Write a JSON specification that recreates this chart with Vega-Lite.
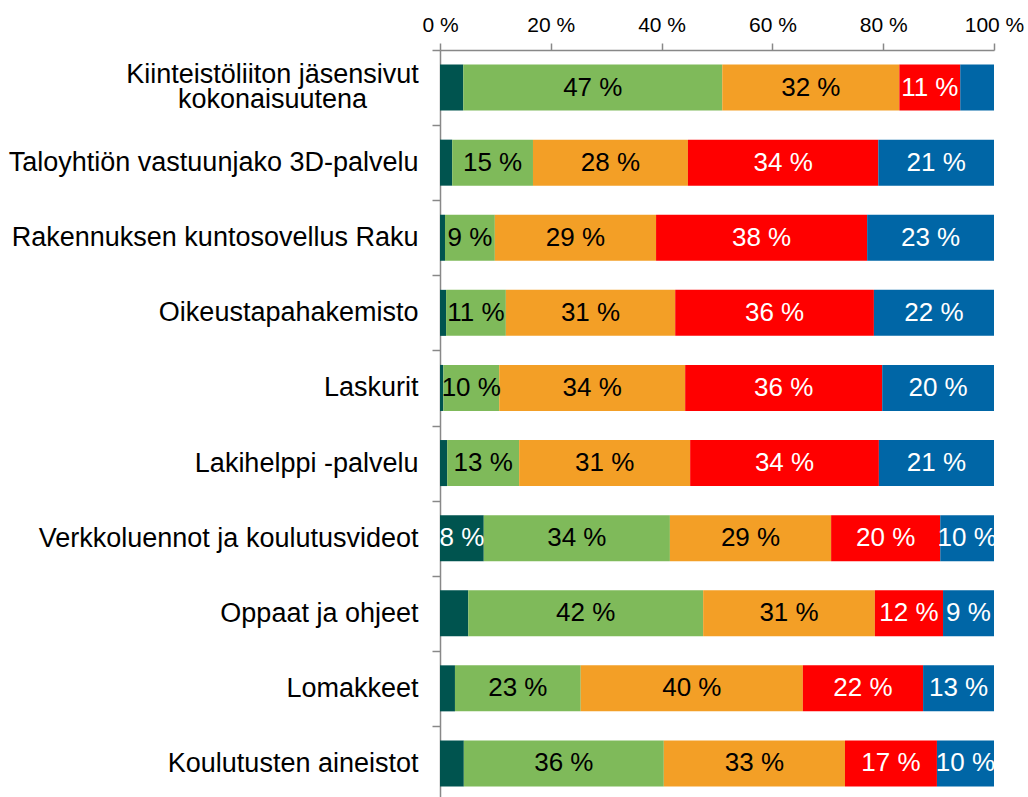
{
  "$schema": "https://vega.github.io/schema/vega-lite/v6.json",
  "width": 554,
  "height": 751,
  "autosize": {"type": "none"},
  "padding": {"left": 440, "top": 50, "right": 34, "bottom": 0},
  "background": "white",
  "config": {"view": {"stroke": null}, "font": "Liberation Sans"},
  "data": {
    "values": [
      {"cat": "Kiinteistöliiton jäsensivut kokonaisuutena", "s": 1, "v": 4.2},
      {"cat": "Kiinteistöliiton jäsensivut kokonaisuutena", "s": 2, "v": 46.8},
      {"cat": "Kiinteistöliiton jäsensivut kokonaisuutena", "s": 3, "v": 32.0},
      {"cat": "Kiinteistöliiton jäsensivut kokonaisuutena", "s": 4, "v": 11.0},
      {"cat": "Kiinteistöliiton jäsensivut kokonaisuutena", "s": 5, "v": 6.1},
      {"cat": "Taloyhtiön vastuunjako 3D-palvelu", "s": 1, "v": 2.2},
      {"cat": "Taloyhtiön vastuunjako 3D-palvelu", "s": 2, "v": 14.6},
      {"cat": "Taloyhtiön vastuunjako 3D-palvelu", "s": 3, "v": 28.0},
      {"cat": "Taloyhtiön vastuunjako 3D-palvelu", "s": 4, "v": 34.4},
      {"cat": "Taloyhtiön vastuunjako 3D-palvelu", "s": 5, "v": 20.9},
      {"cat": "Rakennuksen kuntosovellus Raku", "s": 1, "v": 0.9},
      {"cat": "Rakennuksen kuntosovellus Raku", "s": 2, "v": 9.0},
      {"cat": "Rakennuksen kuntosovellus Raku", "s": 3, "v": 29.1},
      {"cat": "Rakennuksen kuntosovellus Raku", "s": 4, "v": 38.1},
      {"cat": "Rakennuksen kuntosovellus Raku", "s": 5, "v": 22.9},
      {"cat": "Oikeustapahakemisto", "s": 1, "v": 1.1},
      {"cat": "Oikeustapahakemisto", "s": 2, "v": 10.8},
      {"cat": "Oikeustapahakemisto", "s": 3, "v": 30.6},
      {"cat": "Oikeustapahakemisto", "s": 4, "v": 35.9},
      {"cat": "Oikeustapahakemisto", "s": 5, "v": 21.7},
      {"cat": "Laskurit", "s": 1, "v": 0.6},
      {"cat": "Laskurit", "s": 2, "v": 10.1},
      {"cat": "Laskurit", "s": 3, "v": 33.6},
      {"cat": "Laskurit", "s": 4, "v": 35.6},
      {"cat": "Laskurit", "s": 5, "v": 20.2},
      {"cat": "Lakihelppi -palvelu", "s": 1, "v": 1.3},
      {"cat": "Lakihelppi -palvelu", "s": 2, "v": 13.0},
      {"cat": "Lakihelppi -palvelu", "s": 3, "v": 30.9},
      {"cat": "Lakihelppi -palvelu", "s": 4, "v": 34.1},
      {"cat": "Lakihelppi -palvelu", "s": 5, "v": 20.8},
      {"cat": "Verkkoluennot ja koulutusvideot", "s": 1, "v": 7.9},
      {"cat": "Verkkoluennot ja koulutusvideot", "s": 2, "v": 33.6},
      {"cat": "Verkkoluennot ja koulutusvideot", "s": 3, "v": 29.1},
      {"cat": "Verkkoluennot ja koulutusvideot", "s": 4, "v": 19.7},
      {"cat": "Verkkoluennot ja koulutusvideot", "s": 5, "v": 9.7},
      {"cat": "Oppaat ja ohjeet", "s": 1, "v": 5.1},
      {"cat": "Oppaat ja ohjeet", "s": 2, "v": 42.4},
      {"cat": "Oppaat ja ohjeet", "s": 3, "v": 31.0},
      {"cat": "Oppaat ja ohjeet", "s": 4, "v": 12.3},
      {"cat": "Oppaat ja ohjeet", "s": 5, "v": 9.2},
      {"cat": "Lomakkeet", "s": 1, "v": 2.7},
      {"cat": "Lomakkeet", "s": 2, "v": 22.7},
      {"cat": "Lomakkeet", "s": 3, "v": 40.1},
      {"cat": "Lomakkeet", "s": 4, "v": 21.7},
      {"cat": "Lomakkeet", "s": 5, "v": 12.8},
      {"cat": "Koulutusten aineistot", "s": 1, "v": 4.3},
      {"cat": "Koulutusten aineistot", "s": 2, "v": 36.1},
      {"cat": "Koulutusten aineistot", "s": 3, "v": 32.7},
      {"cat": "Koulutusten aineistot", "s": 4, "v": 16.6},
      {"cat": "Koulutusten aineistot", "s": 5, "v": 10.3}
    ]
  },
  "encoding": {
    "y": {
      "field": "cat",
      "type": "nominal",
      "sort": null,
      "title": null,
      "scale": {"paddingInner": 0, "paddingOuter": 0},
      "axis": {
        "orient": "left",
        "tickBand": "extent",
        "tickSize": 8,
        "tickColor": "#888888",
        "domainColor": "#888888",
        "domainWidth": 1.5,
        "tickWidth": 1.5,
        "labelFontSize": 27,
        "labelColor": "#000000",
        "labelLimit": 600,
        "labelPadding": 14,
        "labelExpr": "datum.value == 'Kiinteistöliiton jäsensivut kokonaisuutena' ? '' : datum.value"
      }
    },
    "x": {
      "type": "quantitative",
      "scale": {"domain": [0, 1], "nice": false},
      "title": null,
      "axis": {
        "orient": "top",
        "values": [0, 0.2, 0.4, 0.6, 0.8, 1],
        "labelExpr": "format(datum.value * 100, 'd') + ' %'",
        "grid": false,
        "tickSize": 7,
        "tickColor": "#888888",
        "domainColor": "#888888",
        "domainWidth": 1.5,
        "tickWidth": 1.5,
        "labelFontSize": 21,
        "labelColor": "#000000",
        "labelPadding": 8,
        "labelFlush": false
      }
    }
  },
  "layer": [
    {
      "transform": [
        {"stack": "v", "groupby": ["cat"], "sort": [{"field": "s"}], "as": ["x0", "x1"], "offset": "normalize"}
      ],
      "mark": {"type": "bar", "height": {"band": 0.613}},
      "encoding": {
        "x": {"field": "x0"},
        "x2": {"field": "x1"},
        "color": {
          "field": "s",
          "type": "nominal",
          "legend": null,
          "scale": {"domain": [1, 2, 3, 4, 5], "range": ["#00544F", "#7FBA5A", "#F39F26", "#FF0000", "#0066A6"]}
        }
      }
    },
    {
      "transform": [
        {"stack": "v", "groupby": ["cat"], "sort": [{"field": "s"}], "as": ["x0", "x1"], "offset": "normalize"},
        {"calculate": "(datum.x0 + datum.x1) / 2", "as": "xm"},
        {"calculate": "format(datum.v, '.0f') + ' %'", "as": "lbl"},
        {"filter": "datum.v >= 7"}
      ],
      "mark": {"type": "text", "fontSize": 26, "baseline": "middle", "align": "center"},
      "encoding": {
        "x": {"field": "xm"},
        "text": {"field": "lbl"},
        "color": {"condition": {"test": "datum.s == 2 || datum.s == 3", "value": "#000000"}, "value": "#ffffff"}
      }
    },
    {
      "data": {"values": [{"cat": "Kiinteistöliiton jäsensivut kokonaisuutena", "line1": "Kiinteistöliiton jäsensivut"}]},
      "mark": {"type": "text", "fontSize": 27, "baseline": "middle", "align": "center", "dy": -13, "color": "#000000", "clip": false},
      "encoding": {
        "x": {"datum": -0.3023},
        "text": {"field": "line1"}
      }
    },
    {
      "data": {"values": [{"cat": "Kiinteistöliiton jäsensivut kokonaisuutena", "line2": "kokonaisuutena"}]},
      "mark": {"type": "text", "fontSize": 27, "baseline": "middle", "align": "center", "dy": 12, "color": "#000000", "clip": false},
      "encoding": {
        "x": {"datum": -0.3023},
        "text": {"field": "line2"}
      }
    }
  ]
}
